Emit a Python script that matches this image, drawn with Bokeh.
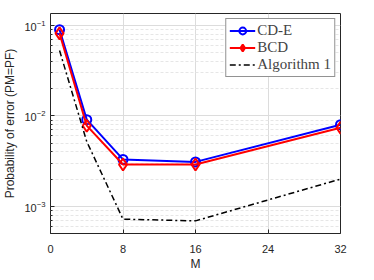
from bokeh.plotting import figure
from bokeh.models import FixedTicker, LogTickFormatter, Range1d, Legend, LegendItem
from bokeh.embed import file_html
from bokeh.resources import INLINE

M = [1, 4, 8, 16, 32]
cde = [0.090, 0.0091, 0.0033, 0.0031, 0.0080]
bcd = [0.082, 0.0078, 0.0029, 0.0029, 0.0074]
alg1 = [0.053, 0.0052, 0.00072, 0.00069, 0.0020]
x_ticks = [0, 8, 16, 24, 32]

p = figure(frame_width=290, frame_height=220, y_axis_type="log",
           x_range=Range1d(0, 32), y_range=Range1d(5e-4, 0.136),
           output_backend="svg", toolbar_location=None,
           min_border_left=40, min_border_right=28, min_border_top=13, min_border_bottom=39)
p.background_fill_color = "white"
p.outline_line_color = "#262626"
p.outline_line_width = 1

r1 = p.line(M, cde, line_color="#0000FF", line_width=2)
m1 = p.scatter(M, cde, marker="circle", size=9, line_color="#0000FF", line_width=2, fill_color=None)
r2 = p.line(M, bcd, line_color="#FF0000", line_width=2)
m2 = p.scatter(M, bcd, marker="diamond", size=12, line_color="#FF0000", line_width=2, fill_color=None)
r3 = p.line(M, alg1, line_color="black", line_width=1.5, line_dash="6 3 2 3")

legend = Legend(items=[LegendItem(label="CD-E", renderers=[r1, m1]),
                       LegendItem(label="BCD", renderers=[r2, m2]),
                       LegendItem(label="Algorithm 1", renderers=[r3])],
                location="top_right")
legend.label_text_font = "Liberation Serif"
legend.label_text_font_size = "15px"
legend.label_height = 17
legend.glyph_height = 17
legend.glyph_width = 26
legend.spacing = 0
legend.padding = 3
legend.margin = 5
legend.label_standoff = 2
legend.border_line_color = "#262626"
legend.border_line_width = 1
legend.background_fill_alpha = 1
p.add_layout(legend)

p.xaxis.ticker = FixedTicker(ticks=x_ticks)
p.xaxis.axis_label = "M"
p.yaxis.axis_label = "Probability of error (PM=PF)"
for ax in [p.xaxis[0], p.yaxis[0]]:
    ax.axis_label_text_font = "Liberation Sans"
    ax.axis_label_text_font_style = "normal"
    ax.axis_label_text_font_size = "12px"
    ax.axis_label_text_color = "#262626"
    ax.major_label_text_font = "Liberation Sans"
    ax.major_label_text_font_size = "11px"
    ax.major_label_text_color = "#262626"
    ax.axis_line_color = None
    ax.major_tick_in = 4
    ax.major_tick_out = 0
    ax.minor_tick_in = 2
    ax.minor_tick_out = 0
    ax.major_tick_line_color = "#262626"
    ax.minor_tick_line_color = "#262626"
p.xaxis.major_label_standoff = 11
p.xaxis.axis_label_standoff = 1
p.yaxis.axis_label_standoff = 4
p.yaxis.formatter = LogTickFormatter()

p.xgrid.ticker = FixedTicker(ticks=x_ticks)
p.xgrid.grid_line_color = "#dcdcdc"
p.ygrid.grid_line_color = "#dcdcdc"
p.ygrid.minor_grid_line_color = "#e6e6e6"
p.ygrid.minor_grid_line_dash = "3 2"

open("out.html", "w").write(file_html(p, INLINE))
